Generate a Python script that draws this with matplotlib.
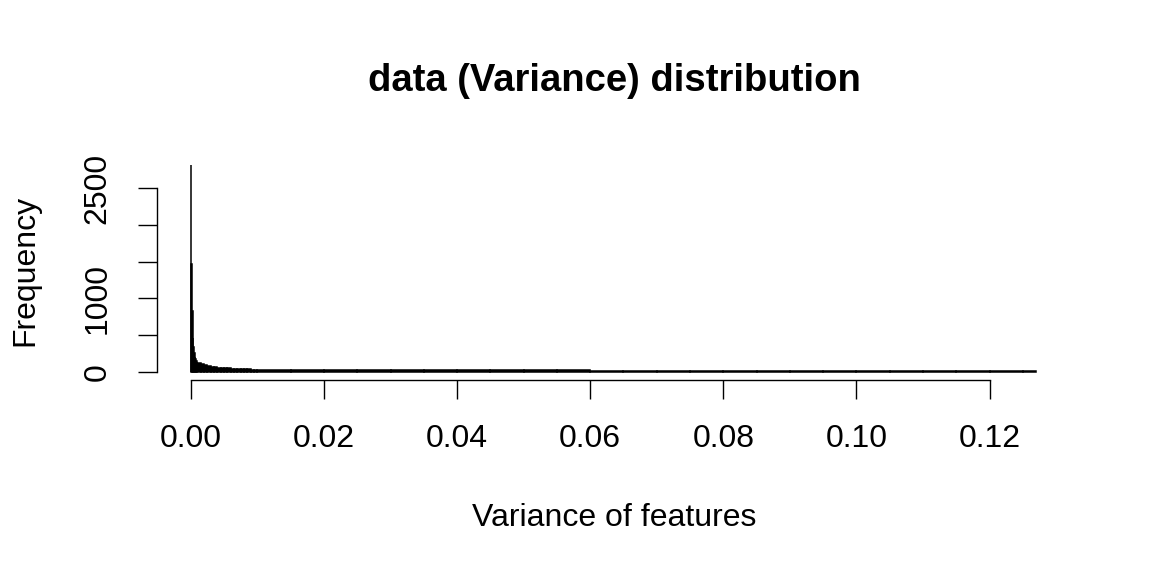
import numpy as np
import matplotlib
matplotlib.use("Agg")
import matplotlib.pyplot as plt

plt.rcParams['font.family'] = ['Liberation Sans', 'DejaVu Sans']

# ---- data ----
# bin edges: fine bins near zero, coarser in the long tail
fine_edges = np.linspace(0.0, 0.001, 11)
mid_edges = np.linspace(0.0015, 0.01, 18)
tail_edges = np.concatenate([np.linspace(0.015, 0.125, 23), [0.127]])
bin_edges = np.concatenate([fine_edges, mid_edges, tail_edges])

fine_freq = [2810, 1470, 830, 460, 330, 250, 200, 170, 150, 135]
mid_freq = [120, 100, 85, 75, 66, 60, 55, 51, 48, 45, 42, 40, 38, 36, 34, 32, 30, 29]
tail_freq = [27, 25, 24, 23, 22, 21, 20, 19, 18, 17, 16, 15, 14, 14, 13, 13, 12, 11, 10,
             9, 8, 7, 6, 5]
frequency = np.array(fine_freq + mid_freq + tail_freq)

x_ticks = [0.00, 0.02, 0.04, 0.06, 0.08, 0.10, 0.12]
x_ticklabels = ["0.00", "0.02", "0.04", "0.06", "0.08", "0.10", "0.12"]
y_ticks = [0, 500, 1000, 1500, 2000, 2500]
y_ticklabels = ["0", "", "1000", "", "", "2500"]

title = "data (Variance) distribution"
xlabel = "Variance of features"
ylabel = "Frequency"

# ---- figure ----
W, H = 1152, 576
fig = plt.figure(figsize=(W / 100, H / 100), dpi=100)
left, right, top, bottom = 157, 1070, 157, 380
ax = fig.add_axes([left / W, 1 - bottom / H, (right - left) / W, (bottom - top) / H])

widths = np.diff(bin_edges)
ax.bar(bin_edges[:-1], frequency, width=widths, align='edge',
       facecolor='black', edgecolor='black', linewidth=1.1)

xmax = bin_edges[-1]
ymax = frequency.max()
ax.set_xlim(-0.04 * xmax, xmax * 1.04)
ax.set_ylim(-0.04 * ymax, ymax * 1.04)

for s in ['top', 'right']:
    ax.spines[s].set_visible(False)
ax.spines['left'].set_bounds(0, 2500)
ax.spines['bottom'].set_bounds(0, 0.12)
for s in ['left', 'bottom']:
    ax.spines[s].set_linewidth(1.0)

ax.set_xticks(x_ticks)
ax.set_xticklabels(x_ticklabels)
ax.set_yticks(y_ticks)
ax.set_yticklabels(y_ticklabels, rotation=90, va='center')
ax.tick_params(axis='both', direction='out', length=14, width=1.0,
               labelsize=23, pad=18)

fig.text(614 / W, 1 - 81 / H, title, ha='center', va='center',
         fontsize=27.5, fontweight='bold')
fig.text(614 / W, 1 - 518 / H, xlabel, ha='center', va='center', fontsize=23)
fig.text(25 / W, 1 - 270 / H, ylabel, ha='center', va='center', fontsize=23,
         rotation=90)

fig.savefig("out.png", dpi=100)
